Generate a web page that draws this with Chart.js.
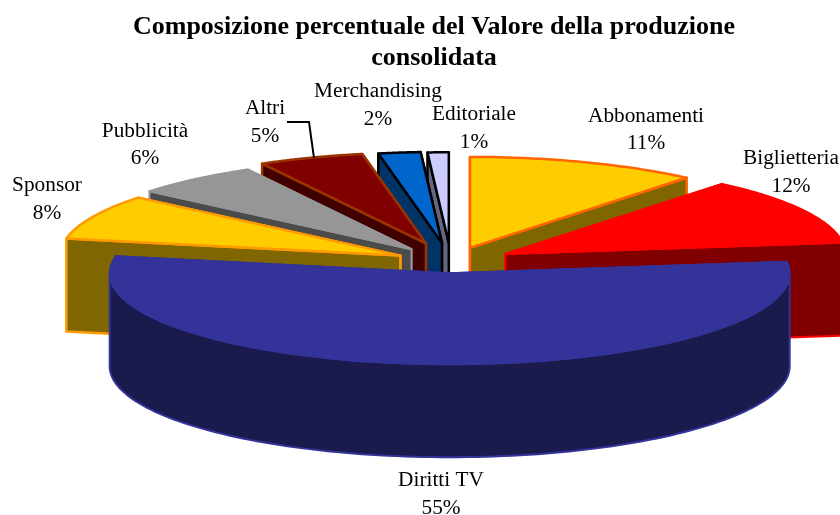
<!DOCTYPE html>
<html><head><meta charset="utf-8">
<style>html,body{margin:0;padding:0;background:#fff}canvas{display:block}</style>
<script src="https://cdn.jsdelivr.net/npm/chart.js@4"></script>
</head><body><canvas id="c" width="840" height="515"></canvas>
<script>
const categories = ['Abbonamenti','Biglietteria','Diritti TV','Sponsor','Pubblicità','Altri','Merchandising','Editoriale'];
const shares = [11,12,55,8,6,5,2,1];
const explodePx = [56,62,42,56,62,74,72,70];
const topColors = ['#ffcc00','#ff0000','#333399','#ffcc00','#969696','#800000','#0066cc','#ccccff'];
const wallColors = ['#806600','#800000','#1a1a4d','#806600','#4b4b4b','#400000','#003366','#666680'];
const edgeColors = ['#ff6600','#ff0000','#333399','#ff9900','#969696','#993300','#000000','#000000'];
const edgeWidths = [2.5,2,2,2.5,2,2.5,2.5,2.5];
const drawOrder = [7,6,5,4,3,0,1,2];
const labelPos = [[646,116,143],[791,158,186],[441,480,508],[47,185,213],[145,131,158],[265,108,136],[378,91,119],[474,114,142]];
const leader = [[287,122],[309,122],[314,158]];
const view = {cx:451,cy:262,rx:340,ry:91,depth:93,base:100};
const sx = view.rx/view.base, sy = view.ry/view.base;

const pie3d = {
  id:'pie3d',
  beforeDatasetsDraw(chart){
    const ctx = chart.ctx, arcs = chart.getDatasetMeta(0).data;
    const path = (pts,close)=>{ctx.beginPath();pts.forEach((p,i)=>i?ctx.lineTo(p[0],p[1]):ctx.moveTo(p[0],p[1]));if(close)ctx.closePath();};
    drawOrder.forEach(i=>{
      const el = arcs[i], a0 = el.startAngle, a1 = el.endAngle, mid=(a0+a1)/2;
      const off = explodePx[i];
      const ox = view.cx+Math.cos(mid)*off, oy = view.cy+Math.sin(mid)*off*view.ry/view.rx;
      const P = (a,d=0)=>[ox+Math.cos(a)*view.rx, oy+Math.sin(a)*view.ry+d];
      const apex=[ox,oy], apexB=[ox,oy+view.depth];
      ctx.save();
      ctx.lineJoin='round';
      ctx.fillStyle=wallColors[i];ctx.strokeStyle=edgeColors[i];ctx.lineWidth=edgeWidths[i];
      const face = a=>{path([apex,P(a),P(a,view.depth),apexB],true);ctx.fill();ctx.stroke();};
      if(Math.cos(mid)>=0){face(a0);face(a1);}else{face(a1);face(a0);}
      const r0=Math.max(a0,0), r1=Math.min(a1,Math.PI);
      if(r1>r0){
        const pts=[];const n=120;
        for(let k=0;k<=n;k++)pts.push(P(r0+(r1-r0)*k/n));
        for(let k=n;k>=0;k--)pts.push(P(r0+(r1-r0)*k/n,view.depth));
        path(pts,true);ctx.fill();ctx.stroke();
      }
      // top face: the library's own arc element under a tilt transform
      ctx.save();
      ctx.translate(ox,oy);ctx.scale(sx,sy);ctx.translate(-el.x,-el.y);
      el.draw(ctx);
      ctx.restore();
      const rimPts=[apex];const m=60;
      for(let k=0;k<=m;k++)rimPts.push(P(a0+(a1-a0)*k/m));
      path(rimPts,true);ctx.stroke();
      ctx.restore();
    });
    return false;
  },
  afterDraw(chart){
    const ctx=chart.ctx;
    ctx.save();
    ctx.fillStyle='#000';ctx.font='21.3px "Liberation Serif","Times New Roman",serif';
    ctx.textAlign='center';ctx.textBaseline='middle';
    categories.forEach((c,i)=>{
      ctx.fillText(c,labelPos[i][0],labelPos[i][1]);
      ctx.fillText(shares[i]+'%',labelPos[i][0],labelPos[i][2]);
    });
    ctx.strokeStyle='#000';ctx.lineWidth=2;ctx.beginPath();
    leader.forEach((p,i)=>i?ctx.lineTo(p[0],p[1]):ctx.moveTo(p[0],p[1]));
    ctx.stroke();
    ctx.restore();
  }
};

new Chart(document.getElementById('c'),{
  type:'pie',
  data:{labels:categories,datasets:[{
    data:shares,
    backgroundColor:topColors,
    borderWidth:0,
    radius:view.base
  }]},
  options:{
    responsive:false,animation:false,events:[],rotation:0,
    layout:{padding:{left:28}},
    plugins:{
      legend:{display:false},tooltip:{enabled:false},
      title:{display:true,fullSize:false,text:['Composizione percentuale del Valore della produzione','consolidata'],
        color:'#000',font:{family:'"Liberation Serif","Times New Roman",serif',size:26,weight:'bold',lineHeight:1.18},
        padding:{top:12,bottom:0}}
    }
  },
  plugins:[pie3d,{id:'bg',beforeDraw(c){c.ctx.save();c.ctx.fillStyle='#fff';c.ctx.fillRect(0,0,840,515);c.ctx.restore();}}]
});
</script></body></html>
